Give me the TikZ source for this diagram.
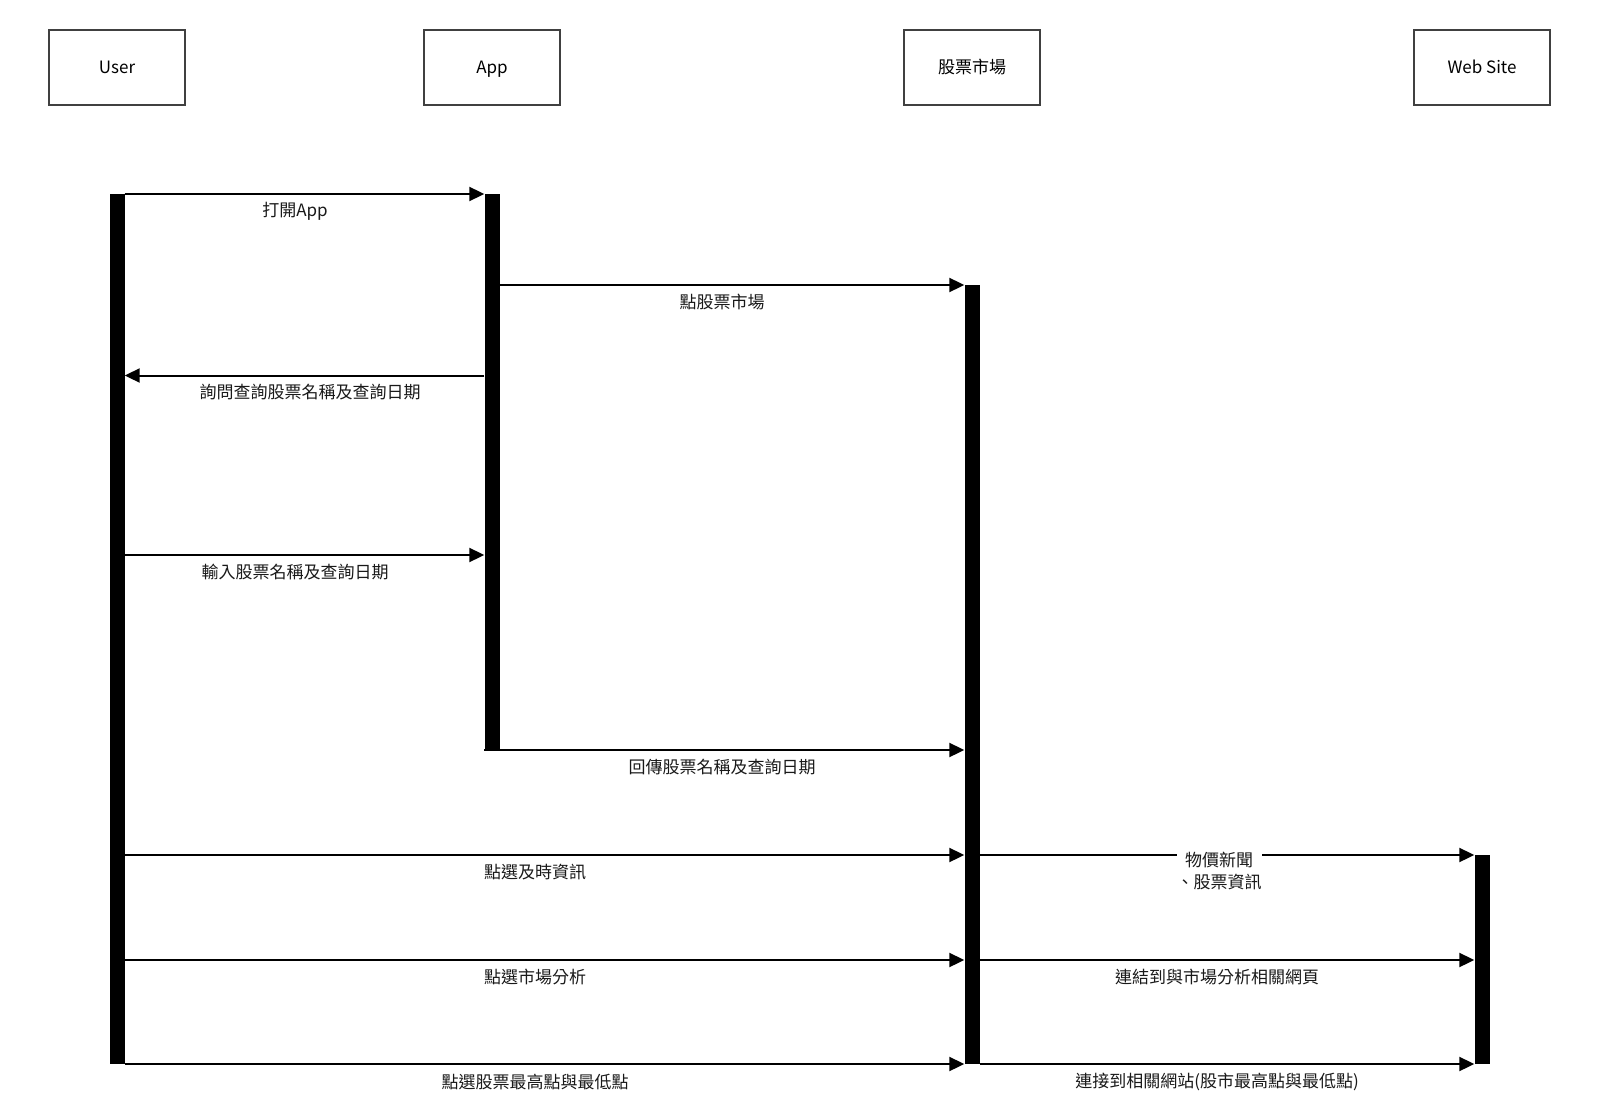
\documentclass[tikz,border=0pt]{standalone}
\usepackage{fontspec}
\setmainfont{Noto Sans CJK TC}
\usetikzlibrary{arrows.meta}
\begin{document}
\begin{tikzpicture}[x=1pt,y=-1pt,
  actor/.style={draw=black!75,line width=2pt,minimum width=136pt,minimum height=75pt,inner sep=0pt,text height=13pt,text depth=0pt,font=\fontsize{17}{20}\selectfont},
  lifebar/.style={fill=black,draw=none,minimum width=15pt,inner sep=0pt,anchor=north},
  msg/.style={line width=2pt,-{Triangle[length=15pt,width=14pt]}},
  lbl/.style={font=\fontsize{17}{21.5}\selectfont,inner sep=1pt,text=black!90}]
\fill[white] (0,0) rectangle (1600,1115);
\useasboundingbox (0,0) rectangle (1600,1115);
% actors
\node[actor] (user) at (117,67.5) {User};
\node[actor] (app) at (492,67.5) {App};
\node[actor] (market) at (972,67.5) {股票市場};
\node[actor] (web) at (1482,67.5) {Web Site};
% activation bars
\node[lifebar,minimum height=870pt] (ubar) at (117,194) {};
\node[lifebar,minimum height=556pt] (abar) at (492,194) {};
\node[lifebar,minimum height=779pt] (mbar) at (972,285) {};
\node[lifebar,minimum height=209pt] (wbar) at (1482,855) {};
% message levels
\coordinate (y1) at (0,194);
\coordinate (y2) at (0,285);
\coordinate (y3) at (0,375.5);
\coordinate (y4) at (0,555);
\coordinate (y5) at (0,750);
\coordinate (y6) at (0,855);
\coordinate (y7) at (0,960);
\coordinate (y8) at (0,1064);
% messages
\draw[msg] (ubar.east |- y1) -- (abar.west |- y1);
\node[lbl] (l1) at (295,211) {打開App};
\draw[msg] (abar.east |- y2) -- (mbar.west |- y2);
\node[lbl] (l2) at (722,302) {點股票市場};
\draw[msg] (abar.west |- y3) -- (ubar.east |- y3);
\node[lbl] (l3) at (310,392) {詢問查詢股票名稱及查詢日期};
\draw[msg] (ubar.east |- y4) -- (abar.west |- y4);
\node[lbl] (l4) at (295,572) {輸入股票名稱及查詢日期};
\draw[msg] (abar.west |- y5) -- (mbar.west |- y5);
\node[lbl] (l5) at (722,767) {回傳股票名稱及查詢日期};
\draw[msg] (ubar.east |- y6) -- (mbar.west |- y6);
\node[lbl] (l6) at (535,872) {點選及時資訊};
\draw[msg] (mbar.east |- y6) -- (wbar.west |- y6);
\node[lbl,fill=white,align=center,inner sep=0pt] (l7) at (1219,871) {物價新聞\\、股票資訊};
\draw[msg] (ubar.east |- y7) -- (mbar.west |- y7);
\node[lbl] (l8) at (535,977) {點選市場分析};
\draw[msg] (mbar.east |- y7) -- (wbar.west |- y7);
\node[lbl] (l9) at (1217,977) {連結到與市場分析相關網頁};
\draw[msg] (ubar.east |- y8) -- (mbar.west |- y8);
\node[lbl] (l10) at (535,1082) {點選股票最高點與最低點};
\draw[msg] (mbar.east |- y8) -- (wbar.west |- y8);
\node[lbl] (l11) at (1217,1082) {連接到相關網站(股市最高點與最低點)};
\end{tikzpicture}
\end{document}
